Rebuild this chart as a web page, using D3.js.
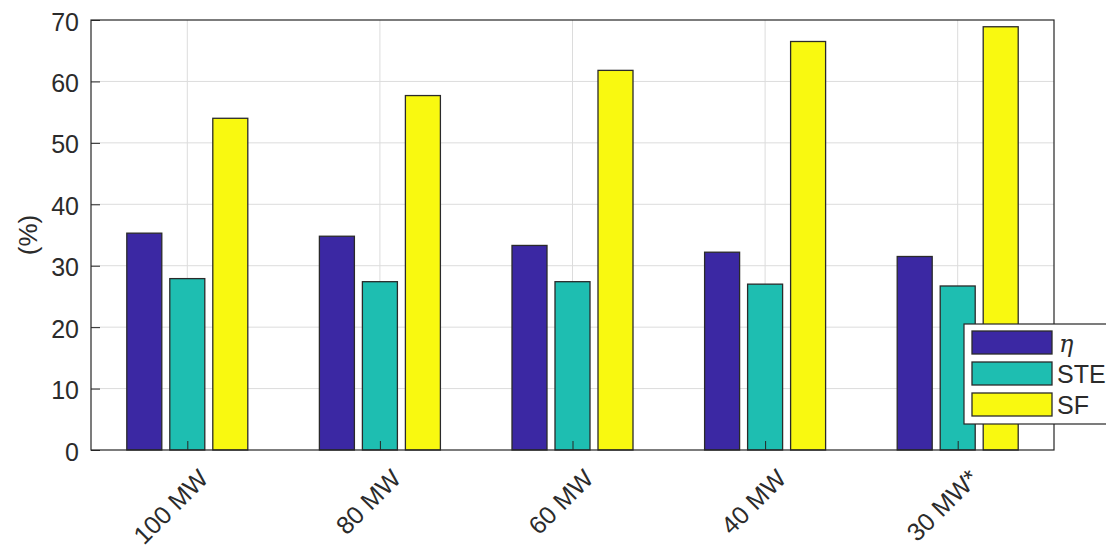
<!DOCTYPE html>
<html>
<head>
<meta charset="utf-8">
<script src="https://cdn.jsdelivr.net/npm/d3@7"></script>
<style>
  body { margin: 0; background: #fff; }
  svg { display: block; font-family: Arial, "Liberation Sans", Helvetica, sans-serif; }
</style>
</head>
<body>
<svg width="1106" height="548"></svg>
<script>
// data
const categories = ["100 MW", "80 MW", "60 MW", "40 MW", "30 MW*"];
const seriesNames = ["η", "STE", "SF"];
const etaValues = [35.3, 34.8, 33.3, 32.2, 31.5];
const steValues = [27.9, 27.4, 27.4, 27.0, 26.7];
const sfValues = [54.0, 57.7, 61.8, 66.5, 68.9];
const yTicks = [0, 10, 20, 30, 40, 50, 60, 70];
const colors = ["#3b28a3", "#1ebeb1", "#f9f910"];

const series = [etaValues, steValues, sfValues];

var svg = d3.select("svg");
const plotLeft = 91, plotRight = 1054, plotTop = 20, plotBottom = 450;
const textColor = "#2b2b2b";
const fontSize = "25px";

var xScale = d3.scaleLinear().domain([0.5, categories.length + 0.5]).range([plotLeft, plotRight]);
var yScale = d3.scaleLinear().domain([0, 70]).range([plotBottom, plotTop]);

const barW = 35;
const barStep = 43;

// grid
svg.append("g")
    .selectAll("line")
    .data(yTicks.slice(1, -1))
    .enter()
    .append("line")
    .attr("x1", plotLeft).attr("x2", plotRight)
    .attr("y1", d => yScale(d)).attr("y2", d => yScale(d))
    .attr("stroke", "#dcdcdc").attr("stroke-width", 1);

svg.append("g")
    .selectAll("line")
    .data(categories)
    .enter()
    .append("line")
    .attr("x1", (d, i) => xScale(i + 1)).attr("x2", (d, i) => xScale(i + 1))
    .attr("y1", plotTop).attr("y2", plotBottom)
    .attr("stroke", "#dcdcdc").attr("stroke-width", 1);

// bars
series.forEach(function (vals, s) {
    svg.append("g")
        .selectAll("rect")
        .data(vals)
        .enter()
        .append("rect")
        .attr("x", (d, i) => xScale(i + 1) + (s - 1) * barStep - barW / 2)
        .attr("y", d => yScale(d))
        .attr("width", barW)
        .attr("height", d => plotBottom - yScale(d))
        .attr("fill", colors[s])
        .attr("stroke", "#2a2a2a")
        .attr("stroke-width", 1.3);
});

// axes
var yAxis = svg.append("g")
    .attr("transform", "translate(" + plotLeft + ",0)")
    .call(d3.axisLeft(yScale).tickValues(yTicks).tickSizeInner(-9).tickSizeOuter(0).tickPadding(12));
yAxis.select(".domain").remove();
yAxis.selectAll("line").attr("stroke", "#262626");
yAxis.selectAll("text")
    .style("font-family", "Arial, 'Liberation Sans', sans-serif")
    .style("font-size", fontSize)
    .attr("dy", "0.4em")
    .attr("fill", textColor);

var xAxis = svg.append("g")
    .attr("transform", "translate(0," + plotBottom + ")")
    .call(d3.axisBottom(xScale).tickValues(d3.range(1, categories.length + 1)).tickSizeInner(-9).tickSizeOuter(0).tickFormat((d, i) => categories[i]));
xAxis.select(".domain").remove();
xAxis.selectAll("line").attr("stroke", "#262626");
xAxis.selectAll("text")
    .style("font-family", "Arial, 'Liberation Sans', sans-serif")
    .style("font-size", fontSize)
    .attr("fill", textColor)
    .attr("text-anchor", "end")
    .attr("dy", null)
    .attr("y", 0)
    .attr("transform", "translate(22,30) rotate(-45)");

// box
svg.append("rect")
    .attr("x", plotLeft).attr("y", plotTop)
    .attr("width", plotRight - plotLeft).attr("height", plotBottom - plotTop)
    .attr("fill", "none")
    .attr("stroke", "#262626")
    .attr("stroke-width", 1.2);

// y label
svg.append("text")
    .attr("text-anchor", "middle")
    .attr("transform", "translate(37,235)rotate(-90)")
    .style("font-size", "26px")
    .attr("fill", textColor)
    .text("(%)");

// legend
var legend = svg.append("g");
legend.append("rect")
    .attr("x", 964).attr("y", 324)
    .attr("width", 160).attr("height", 100)
    .attr("fill", "#fff")
    .attr("stroke", "#262626")
    .attr("stroke-width", 1.2);

seriesNames.forEach(function (name, s) {
    var y0 = 331 + s * 31;
    legend.append("rect")
        .attr("x", 972).attr("y", y0)
        .attr("width", 80).attr("height", 23)
        .attr("fill", colors[s])
        .attr("stroke", "#2a2a2a")
        .attr("stroke-width", 1.3);
    legend.append("text")
        .attr("x", s === 0 ? 1059 : 1057).attr("y", y0 + 21)
        .style("font-size", s === 0 ? "24px" : fontSize)
        .style("font-family", s === 0 ? "'DejaVu Serif', 'Liberation Serif', serif" : null)
        .style("font-style", s === 0 ? "italic" : null)
        .attr("fill", textColor)
        .text(name);
});
</script>
</body>
</html>
